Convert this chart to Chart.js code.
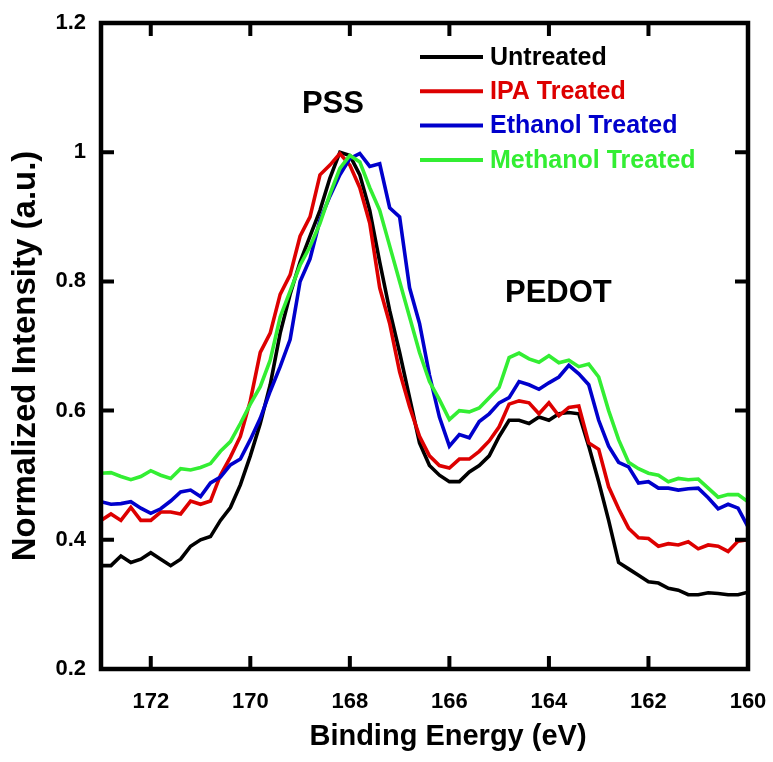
<!DOCTYPE html>
<html>
<head>
<meta charset="utf-8">
<script src="https://cdn.jsdelivr.net/npm/chart.js@4.4.1/dist/chart.umd.min.js"></script>
<style>
  html, body { margin: 0; padding: 0; background: #ffffff; }
  #wrap { width: 773px; height: 762px; }
</style>
</head>
<body>
<div id="wrap"><canvas id="c" width="773" height="762"></canvas></div>
<script>
// ---- data ----
const energies = [173.0,172.8,172.6,172.4,172.2,172.0,171.8,171.6,171.4,171.2,171.0,170.8,170.6,170.4,170.2,170.0,
  169.8,169.6,169.4,169.2,169.0,168.8,168.6,168.4,168.2,168.0,167.8,167.6,167.4,167.2,167.0,166.8,166.6,166.4,166.2,166.0,
  165.8,165.6,165.4,165.2,165.0,164.8,164.6,164.4,164.2,164.0,163.8,163.6,163.4,163.2,163.0,162.8,162.6,162.4,162.2,162.0,
  161.8,161.6,161.4,161.2,161.0,160.8,160.6,160.4,160.2,160.0];

const untreated = [0.36,0.36,0.375,0.365,0.37,0.38,0.37,0.36,0.37,0.39,0.40,0.405,0.43,0.45,0.485,0.53,
  0.58,0.64,0.72,0.78,0.83,0.87,0.91,0.96,1.0,0.995,0.965,0.91,0.83,0.755,0.69,0.62,0.55,0.515,0.50,0.49,
  0.49,0.505,0.515,0.53,0.56,0.585,0.585,0.58,0.59,0.585,0.595,0.597,0.595,0.545,0.49,0.43,0.365,0.355,0.345,0.335,
  0.333,0.325,0.322,0.315,0.315,0.318,0.317,0.315,0.315,0.319];

const ipaTreated = [0.43,0.44,0.43,0.45,0.43,0.43,0.443,0.443,0.44,0.46,0.455,0.46,0.50,0.528,0.56,0.615,
  0.69,0.72,0.78,0.81,0.87,0.90,0.965,0.98,0.998,0.98,0.945,0.89,0.79,0.735,0.66,0.606,0.56,0.53,0.515,0.511,
  0.525,0.525,0.537,0.553,0.575,0.61,0.615,0.612,0.595,0.612,0.592,0.605,0.607,0.55,0.54,0.482,0.448,0.418,0.403,0.402,
  0.39,0.394,0.392,0.397,0.386,0.392,0.39,0.382,0.398,0.40];

const ethanolTreated = [0.459,0.455,0.456,0.459,0.449,0.441,0.448,0.46,0.474,0.477,0.467,0.488,0.497,0.516,0.525,0.555,
  0.588,0.63,0.668,0.71,0.80,0.835,0.895,0.932,0.965,0.99,0.998,0.978,0.982,0.914,0.90,0.79,0.735,0.655,0.59,0.545,
  0.563,0.558,0.583,0.595,0.612,0.62,0.645,0.64,0.633,0.643,0.652,0.67,0.657,0.64,0.585,0.545,0.52,0.513,0.488,0.49,
  0.48,0.48,0.477,0.479,0.48,0.465,0.448,0.455,0.449,0.42];

const methanolTreated = [0.503,0.504,0.498,0.493,0.498,0.507,0.50,0.495,0.51,0.508,0.512,0.518,0.537,0.552,0.58,0.61,
  0.637,0.678,0.745,0.785,0.825,0.854,0.89,0.935,0.975,0.995,0.985,0.945,0.91,0.855,0.80,0.745,0.69,0.645,0.617,0.586,
  0.60,0.598,0.604,0.62,0.636,0.682,0.689,0.68,0.675,0.685,0.674,0.678,0.668,0.672,0.652,0.60,0.555,0.52,0.51,0.503,
  0.50,0.49,0.495,0.493,0.494,0.48,0.466,0.47,0.47,0.459];

const seriesNames = ['Untreated', 'IPA Treated', 'Ethanol Treated', 'Methanol Treated'];
const xTickValues = [172, 170, 168, 166, 164, 162, 160];
const yTickValues = [0.2, 0.4, 0.6, 0.8, 1.0, 1.2];
const yTickLabels = ['0.2', '0.4', '0.6', '0.8', '1', '1.2'];
const xTitle = 'Binding Energy (eV)';
const yTitle = 'Normalized Intensity (a.u.)';
const peakLabels = ['PSS', 'PEDOT'];
const peakLabelX = [168.34, 163.81];
const peakLabelY = [1.074, 0.781];

// ---- styling ----
const FONT = "'Liberation Sans', Arial, Helvetica, sans-serif";
const colors = ['#000000', '#dd0000', '#0000cc', '#33ee33'];
const seriesValues = [untreated, ipaTreated, ethanolTreated, methanolTreated];

const datasets = seriesValues.map((vals, i) => ({
  label: seriesNames[i],
  data: energies.map((e, k) => ({ x: e, y: vals[k] })),
  borderColor: colors[i],
  backgroundColor: colors[i],
  borderWidth: 3.6,
  pointRadius: 0,
  tension: 0,
  fill: false,
  order: seriesValues.length - 1 - i
}));

const framePlugin = {
  id: 'frame',
  afterDraw(chart) {
    const ctx = chart.ctx;
    const a = chart.chartArea;
    const xs = chart.scales.x, ys = chart.scales.y;
    ctx.save();
    // frame
    ctx.strokeStyle = '#000';
    ctx.lineWidth = 4.5;
    ctx.lineJoin = 'miter';
    ctx.strokeRect(a.left, a.top, a.right - a.left, a.bottom - a.top);
    // inward ticks on all sides
    const tl = 13;
    ctx.lineWidth = 4;
    ctx.lineCap = 'butt';
    ctx.beginPath();
    xTickValues.forEach(v => {
      const px = xs.getPixelForValue(v);
      ctx.moveTo(px, a.bottom); ctx.lineTo(px, a.bottom - tl);
      ctx.moveTo(px, a.top); ctx.lineTo(px, a.top + tl);
    });
    yTickValues.forEach(v => {
      const py = ys.getPixelForValue(v);
      ctx.moveTo(a.left, py); ctx.lineTo(a.left + tl, py);
      ctx.moveTo(a.right, py); ctx.lineTo(a.right - tl, py);
    });
    ctx.stroke();

    // peak labels
    ctx.fillStyle = '#000';
    ctx.font = 'bold 31px ' + FONT;
    ctx.textAlign = 'center';
    ctx.textBaseline = 'middle';
    peakLabels.forEach((t, i) => {
      ctx.fillText(t, xs.getPixelForValue(peakLabelX[i]), ys.getPixelForValue(peakLabelY[i]));
    });

    // legend
    ctx.font = 'bold 25px ' + FONT;
    ctx.textAlign = 'left';
    ctx.textBaseline = 'middle';
    chart.data.datasets.forEach((ds, i) => {
      const y = 57 + i * 34.3;
      ctx.strokeStyle = ds.borderColor;
      ctx.lineWidth = 4;
      ctx.beginPath();
      ctx.moveTo(420, y); ctx.lineTo(483, y);
      ctx.stroke();
      ctx.fillStyle = ds.borderColor;
      ctx.fillText(ds.label, 490, y + 1);
    });

    // axis titles
    ctx.fillStyle = '#000';
    ctx.font = 'bold 29px ' + FONT;
    ctx.textAlign = 'center';
    ctx.textBaseline = 'alphabetic';
    ctx.fillText(xTitle, 448, 745);
    ctx.save();
    ctx.translate(35, 356);
    ctx.rotate(-Math.PI / 2);
    ctx.font = 'bold 33px ' + FONT;
    ctx.fillText(yTitle, 0, 0);
    ctx.restore();
    ctx.restore();
  }
};

new Chart(document.getElementById('c'), {
  type: 'line',
  data: { datasets },
  options: {
    responsive: false,
    animation: false,
    devicePixelRatio: 1,
    layout: { padding: { top: 23, right: 25, left: 0, bottom: 0 } },
    plugins: { legend: { display: false }, tooltip: { enabled: false } },
    scales: {
      x: {
        type: 'linear',
        reverse: true,
        min: 160,
        max: 173,
        grid: { display: false, drawTicks: false },
        border: { display: false },
        afterBuildTicks: s => { s.ticks = xTickValues.map(v => ({ value: v })); },
        afterFit: s => { s.height = 93; s.paddingLeft = 0; s.paddingRight = 0; s.paddingTop = 0; s.paddingBottom = 0; },
        ticks: {
          color: '#000',
          padding: 20,
          maxRotation: 0,
          font: { family: FONT, size: 22, weight: 'bold' },
          callback: v => String(v)
        }
      },
      y: {
        type: 'linear',
        min: 0.2,
        max: 1.2,
        grid: { display: false, drawTicks: false },
        border: { display: false },
        afterBuildTicks: s => { s.ticks = yTickValues.map(v => ({ value: v })); },
        afterFit: s => { s.width = 101; s.paddingLeft = 0; s.paddingRight = 0; s.paddingTop = 0; s.paddingBottom = 0; },
        ticks: {
          color: '#000',
          padding: 15,
          font: { family: FONT, size: 22, weight: 'bold' },
          callback: (v) => {
            const idx = yTickValues.findIndex(t => Math.abs(t - v) < 1e-6);
            return idx >= 0 ? yTickLabels[idx] : '';
          }
        }
      }
    }
  },
  plugins: [framePlugin]
});
</script>
</body>
</html>
